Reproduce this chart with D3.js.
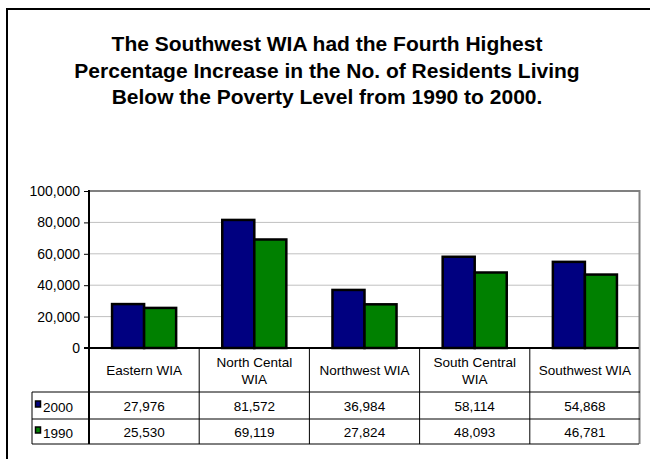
<!DOCTYPE html>
<html>
<head>
<meta charset="utf-8">
<script src="https://cdn.jsdelivr.net/npm/d3@7"></script>
<style>
  html, body { margin: 0; padding: 0; background: #fff; }
  svg { display: block; }
  text { font-family: "Liberation Sans", Arial, sans-serif; fill: #000; }
</style>
</head>
<body>
<svg id="chart" width="650" height="459"></svg>
<script>
// Residents living below the poverty level, by WIA
const categories = ["Eastern WIA", "North Cental WIA", "Northwest WIA", "South Central WIA", "Southwest WIA"];
const categoryLines = [["Eastern WIA"], ["North Cental", "WIA"], ["Northwest WIA"], ["South Central", "WIA"], ["Southwest WIA"]];
const seriesNames = ["2000", "1990"];
const values2000 = [27976, 81572, 36984, 58114, 54868];
const values1990 = [25530, 69119, 27824, 48093, 46781];
const seriesColors = ["#000080", "#008000"];
const yTicks = [0, 20000, 40000, 60000, 80000, 100000];
const titleLines = [
  "The Southwest WIA had the Fourth Highest",
  "Percentage Increase in the No. of Residents Living",
  "Below the Poverty Level from 1990 to 2000."
];

const seriesValues = [values2000, values1990];
const svg = d3.select("#chart");
const smallFont = 13.5;

// outer frame
svg.append("rect")
  .attr("x", 7).attr("y", 9).attr("width", 700).attr("height", 500)
  .attr("fill", "none").attr("stroke", "#000").attr("stroke-width", 2);

// title
svg.append("text")
  .attr("text-anchor", "middle")
  .attr("font-weight", "bold")
  .attr("font-size", 21)
  .selectAll("tspan").data(titleLines).join("tspan")
  .attr("x", 327)
  .attr("y", (d, i) => 51 + i * 26.7)
  .text(d => d);

const plotLeft = 89, plotRight = 640, plotTop = 191, plotBase = 348;
const rowTop = [348, 392, 419, 444];
const tableLeft = 32;

const x = d3.scaleBand().domain(categories).range([plotLeft, plotRight]).padding(0);
const xs = d3.scaleBand().domain(seriesNames).range([0, x.bandwidth()])
  .paddingInner(0).paddingOuter(0.72);
const y = d3.scaleLinear().domain([0, 100000]).range([plotBase, plotTop]);

// gridlines
svg.append("g").selectAll("line").data(yTicks.filter(t => t > 0 && t < 100000)).join("line")
  .attr("x1", plotLeft).attr("x2", plotRight)
  .attr("y1", d => y(d)).attr("y2", d => y(d))
  .attr("stroke", "#c0c0c0").attr("stroke-width", 1);

// plot frame (top and right)
svg.append("path")
  .attr("d", `M${plotLeft},${y(100000)}H${plotRight - 0.5}V${rowTop[3]}`)
  .attr("fill", "none").attr("stroke", "#808080").attr("stroke-width", 2);

// bars
const groups = svg.append("g").selectAll("g").data(categories).join("g")
  .attr("transform", d => `translate(${x(d)},0)`);
groups.selectAll("rect")
  .data((d, i) => seriesNames.map((s, j) => ({ s, v: seriesValues[j][i], c: seriesColors[j] })))
  .join("rect")
  .attr("x", d => xs(d.s))
  .attr("width", xs.bandwidth())
  .attr("y", d => y(d.v))
  .attr("height", d => plotBase - y(d.v))
  .attr("fill", d => d.c)
  .attr("stroke", "#000").attr("stroke-width", 2.5);

// y axis
const yAxis = d3.axisLeft(y).tickValues(yTicks).tickSize(5).tickPadding(4)
  .tickFormat(d3.format(","));
const ya = svg.append("g").attr("transform", `translate(${plotLeft},0)`).call(yAxis);
ya.select(".domain").remove();
ya.selectAll(".tick line").attr("stroke", "#000");
ya.selectAll(".tick text").attr("font-size", 14)
  .attr("font-family", "Liberation Sans, Arial, sans-serif");

// data table grid
const tg = svg.append("g").attr("stroke", "#000").attr("stroke-width", 1).attr("fill", "none");
tg.selectAll("line.v").data(categories.slice(1)).join("line")
  .attr("x1", d => x(d)).attr("x2", d => x(d))
  .attr("y1", rowTop[0]).attr("y2", rowTop[3]);
tg.selectAll("line.h").data([rowTop[1], rowTop[2]]).join("line")
  .attr("x1", tableLeft).attr("x2", plotRight)
  .attr("y1", d => d).attr("y2", d => d);
tg.append("path")
  .attr("d", `M${tableLeft},${rowTop[1]}V${rowTop[3]}H${plotRight - 1}`);

// baseline and left axis line
svg.append("line").attr("x1", plotLeft - 5).attr("x2", plotRight - 1).attr("y1", plotBase).attr("y2", plotBase)
  .attr("stroke", "#000").attr("stroke-width", 2);
svg.append("line").attr("x1", plotLeft).attr("x2", plotLeft).attr("y1", plotTop - 1).attr("y2", rowTop[3])
  .attr("stroke", "#000").attr("stroke-width", 2);

// category labels
svg.append("g").selectAll("text").data(categories).join("text")
  .attr("text-anchor", "middle").attr("font-size", smallFont)
  .each(function (d, i) {
    const lines = categoryLines[i];
    const cy = (rowTop[0] + rowTop[1]) / 2;
    const t = d3.select(this);
    lines.forEach((ln, k) => {
      t.append("tspan")
        .attr("x", x(d) + x.bandwidth() / 2)
        .attr("y", cy + 5 + (k - (lines.length - 1) / 2) * 17)
        .text(ln);
    });
  });

// data rows
const fmt = d3.format(",");
seriesNames.forEach((s, j) => {
  const cy = (rowTop[j + 1] + rowTop[j + 2]) / 2;
  svg.append("rect")
    .attr("x", 35.5).attr("y", cy - 4.5).attr("width", 5).attr("height", 6)
    .attr("fill", seriesColors[j]).attr("stroke", "#000").attr("stroke-width", 1.5);
  svg.append("text").attr("x", 43).attr("y", cy + 6).attr("font-size", smallFont).text(s);
  svg.append("g").selectAll("text").data(categories).join("text")
    .attr("text-anchor", "middle").attr("font-size", smallFont)
    .attr("x", d => x(d) + x.bandwidth() / 2)
    .attr("y", cy + 5)
    .text((d, i) => fmt(seriesValues[j][i]));
});
</script>
</body>
</html>
